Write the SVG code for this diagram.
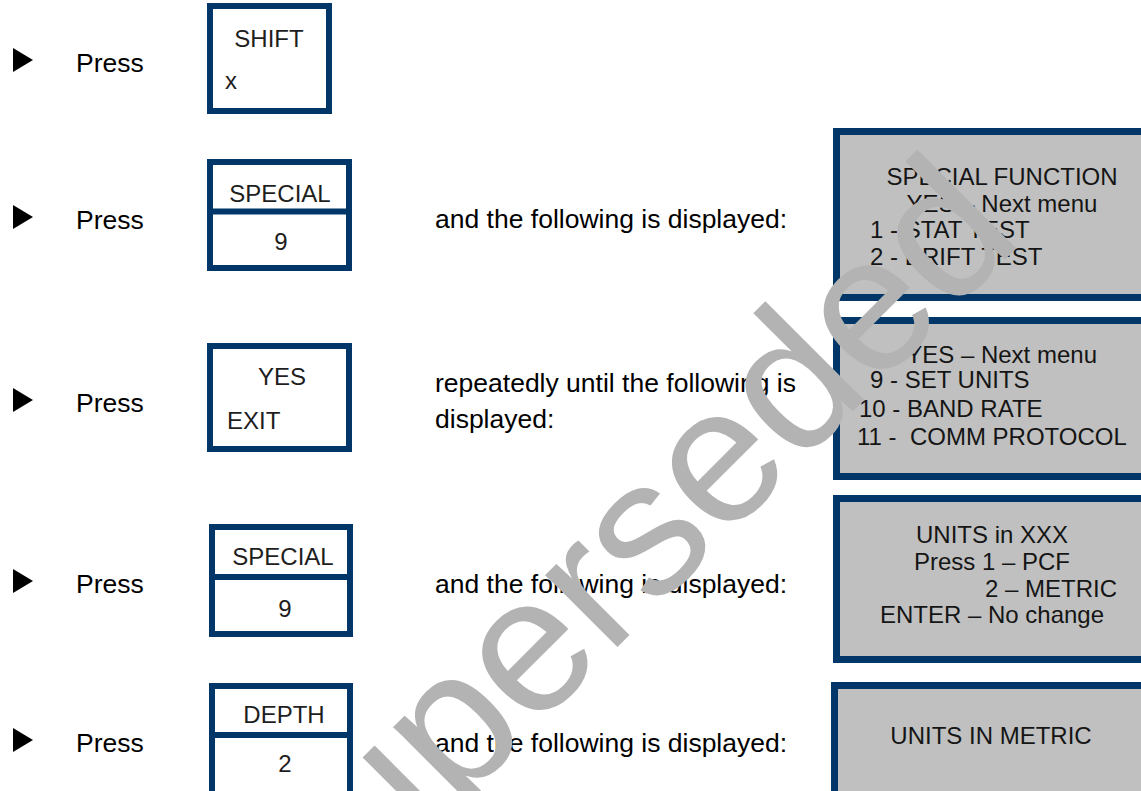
<svg xmlns="http://www.w3.org/2000/svg" width="1141" height="791" viewBox="0 0 1141 791">
<style>
.body{font-family:"Liberation Sans",Arial,sans-serif;font-size:26.5px;fill:#000}
.key{font-family:"Liberation Sans",Arial,sans-serif;font-size:24px;fill:#1e1e1e}
.pt{font-family:"Liberation Sans",Arial,sans-serif;font-size:24px;fill:#151515}
.kb{fill:#fff;stroke:#003768;stroke-width:6}
.dv{stroke:#003768;stroke-width:6}
.pn{fill:#c0c0c0;stroke:#003768;stroke-width:7}
.bl{fill:#000}
.wm{font-family:"Liberation Sans",Arial,sans-serif;font-size:193px;fill:#b3b3b3}
</style>
<rect width="1141" height="791" fill="#fff"/>
<g id="step1">
<polygon class="bl" points="13,48 33,60 13,72"/>
<text class="body" x="76" y="72">Press</text>
</g>
<g id="key-shift">
<rect class="kb" x="210" y="6" width="119" height="105"/>
<text class="key" x="269" y="47" text-anchor="middle">SHIFT</text>
<text class="key" x="225" y="89">x</text>
</g>
<g id="step2">
<polygon class="bl" points="13,205 33,217 13,229"/>
<text class="body" x="76" y="229">Press</text>
<text class="body" x="435" y="228">and the following is displayed:</text>
</g>
<g id="key-special-1">
<rect class="kb" x="210" y="162" width="139" height="106"/>
<line class="dv" x1="210" y1="211.5" x2="349" y2="211.5"/>
<text class="key" x="280" y="202" text-anchor="middle">SPECIAL</text>
<text class="key" x="281" y="250" text-anchor="middle">9</text>
</g>
<g id="step3">
<polygon class="bl" points="13,388 33,400 13,412"/>
<text class="body" x="76" y="412">Press</text>
<text class="body" x="435" y="392">repeatedly until the following is</text>
<text class="body" x="435" y="428">displayed:</text>
</g>
<g id="key-yes">
<rect class="kb" x="210" y="346" width="139" height="103"/>
<text class="key" x="282" y="385" text-anchor="middle">YES</text>
<text class="key" x="227" y="429">EXIT</text>
</g>
<g id="step4">
<polygon class="bl" points="13,569 33,581 13,593"/>
<text class="body" x="76" y="593">Press</text>
<text class="body" x="435" y="593">and the following is displayed:</text>
</g>
<g id="key-special-2">
<rect class="kb" x="212" y="527" width="138" height="107"/>
<line class="dv" x1="212" y1="577" x2="350" y2="577"/>
<text class="key" x="283" y="565" text-anchor="middle">SPECIAL</text>
<text class="key" x="285" y="617" text-anchor="middle">9</text>
</g>
<g id="step5">
<polygon class="bl" points="13,728 33,740 13,752"/>
<text class="body" x="76" y="752">Press</text>
<text class="body" x="435" y="752">and the following is displayed:</text>
</g>
<g id="key-depth">
<rect class="kb" x="212" y="686" width="138" height="120"/>
<line class="dv" x1="212" y1="735" x2="350" y2="735"/>
<text class="key" x="284" y="723" text-anchor="middle">DEPTH</text>
<text class="key" x="285" y="772" text-anchor="middle">2</text>
</g>
<g id="panel-special-function">
<rect class="pn" x="836.5" y="131.5" width="320" height="166"/>
<text class="pt" x="1002" y="185" text-anchor="middle">SPECIAL FUNCTION</text>
<text class="pt" x="1002" y="212" text-anchor="middle">YES – Next menu</text>
<text class="pt" x="870" y="238">1 - STAT TEST</text>
<text class="pt" x="870" y="265">2 - DRIFT TEST</text>
</g>
<g id="panel-menu">
<rect class="pn" x="836.5" y="320.5" width="320" height="156"/>
<text class="pt" x="1097" y="363" text-anchor="end">YES – Next menu</text>
<text class="pt" x="870" y="388">9 - SET UNITS</text>
<text class="pt" x="859" y="417">10 - BAND RATE</text>
<text class="pt" x="857" y="445" xml:space="preserve">11 -  COMM PROTOCOL</text>
</g>
<g id="panel-units">
<rect class="pn" x="836.5" y="498.5" width="320" height="161"/>
<text class="pt" x="992" y="543" text-anchor="middle">UNITS in XXX</text>
<text class="pt" x="992" y="570" text-anchor="middle">Press 1 – PCF</text>
<text class="pt" x="985" y="597">2 – METRIC</text>
<text class="pt" x="992" y="623" text-anchor="middle">ENTER – No change</text>
</g>
<g id="panel-metric">
<rect class="pn" x="834.5" y="685.5" width="320" height="200"/>
<text class="pt" x="991" y="744" text-anchor="middle">UNITS IN METRIC</text>
</g>
<g id="connectors"></g>
<text class="wm" x="657.3" y="607.1" text-anchor="middle" transform="rotate(-45 657.3 607.1)">Superseded</text>
</svg>
